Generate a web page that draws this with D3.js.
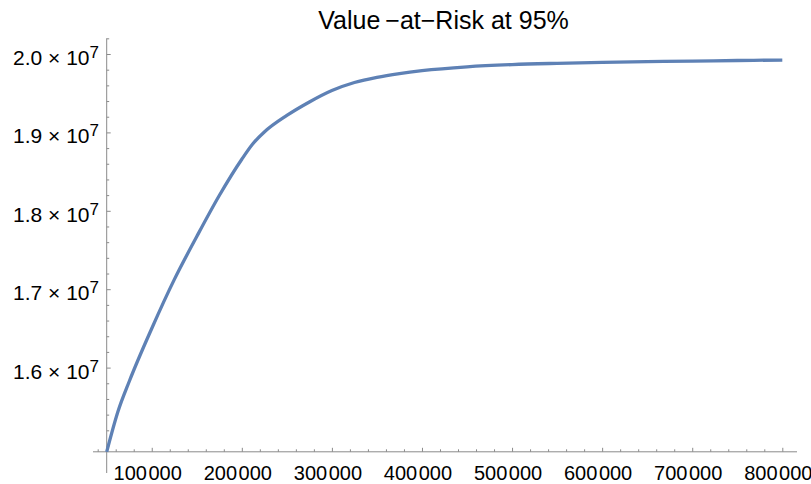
<!DOCTYPE html>
<html>
<head>
<meta charset="utf-8">
<script src="https://cdn.jsdelivr.net/npm/d3@7"></script>
<style>
  html, body { margin: 0; padding: 0; background: #fff; }
  svg { display: block; }
  text { font-family: "Liberation Sans", Arial, sans-serif; fill: #000; }
</style>
</head>
<body>
<svg id="chart" width="811" height="484"></svg>
<script>
// Portfolio size vs. Value-at-Risk (95%)
const positionSize = [50000, 62500, 75000, 100000, 125000, 150000, 175000, 200000, 212500,
  225000, 250000, 275000, 300000, 325000, 350000, 375000, 400000, 450000,
  500000, 550000, 600000, 650000, 700000, 750000, 800000];
const valueAtRisk = [1.4926e7, 1.5440e7, 1.5823e7, 1.6499e7, 1.7122e7, 1.7672e7, 1.8195e7, 1.8658e7, 1.8858e7,
  1.9005e7, 1.9216e7, 1.9388e7, 1.9534e7, 1.9636e7, 1.9703e7, 1.9751e7, 1.9788e7, 1.9837e7,
  1.9865e7, 1.9881e7, 1.9893e7, 1.9902e7, 1.9909e7, 1.9917e7, 1.9923e7];

const xMajorTicks = [100000, 200000, 300000, 400000, 500000, 600000, 700000, 800000];
const xLabelHead = ["100", "200", "300", "400", "500", "600", "700", "800"];
const xLabelTail = "000";
const yMajorTicks = [1.6e7, 1.7e7, 1.8e7, 1.9e7, 2.0e7];
const yTickMantissa = ["1.6", "1.7", "1.8", "1.9", "2.0"];
const yTickExponent = "7";
const chartTitle = "Value\u2009\u2212at\u2212Risk at 95%";

const svg = d3.select("#chart");

const x = d3.scaleLinear().domain([50000, 800000]).range([106.7, 782.3]);
const y = d3.scaleLinear().domain([1.6e7, 2.0e7]).range([367.6, 54]);

const axisColor = "#8a8a8a";
const xOrigin = x(50000);
const yOrigin = y(valueAtRisk[0]);

// axis lines
svg.append("line")
  .attr("x1", 93).attr("x2", 797)
  .attr("y1", yOrigin).attr("y2", yOrigin)
  .attr("stroke", axisColor).attr("stroke-width", 1);
svg.append("line")
  .attr("x1", xOrigin).attr("x2", xOrigin)
  .attr("y1", y(2.02e7)).attr("y2", 473)
  .attr("stroke", axisColor).attr("stroke-width", 1);

// x ticks (pointing up into the plot)
const xMinor = d3.range(40000, 800001, 20000).filter(v => !xMajorTicks.includes(v));
const gx = svg.append("g").attr("transform", `translate(0,${yOrigin})`);
gx.call(d3.axisTop(x).tickValues(xMajorTicks).tickSize(4).tickFormat(""));
gx.append("g").call(d3.axisTop(x).tickValues(xMinor).tickSize(2.5).tickFormat(""));
gx.selectAll(".domain").remove();
gx.selectAll("line").attr("stroke", axisColor);

// y ticks (pointing right into the plot)
const yMinor = d3.range(1.50e7, 2.021e7, 0.2e6).map(v => Math.round(v / 1e5) * 1e5)
  .filter(v => !yMajorTicks.includes(v));
const gy = svg.append("g").attr("transform", `translate(${xOrigin},0)`);
gy.call(d3.axisRight(y).tickValues(yMajorTicks).tickSize(4).tickFormat(""));
gy.append("g").call(d3.axisRight(y).tickValues(yMinor).tickSize(2.5).tickFormat(""));
gy.selectAll(".domain").remove();
gy.selectAll("line").attr("stroke", axisColor);

// x tick labels, digits grouped in threes
const xl = svg.append("g").selectAll("text")
  .data(xMajorTicks)
  .join("text")
  .attr("x", d => x(d) - 4)
  .attr("y", 480)
  .attr("text-anchor", "middle")
  .attr("font-size", 20);
xl.append("tspan").text((d, i) => xLabelHead[i]);
xl.append("tspan").attr("dx", 1.5).text(xLabelTail);

// y tick labels in scientific form
const yl = svg.append("g").selectAll("text")
  .data(yMajorTicks)
  .join("text")
  .attr("x", 99)
  .attr("y", d => y(d) + 11)
  .attr("text-anchor", "end")
  .attr("font-size", 21);
yl.append("tspan").text((d, i) => yTickMantissa[i] + " \u00d7 10");
yl.append("tspan").attr("dy", -7).attr("font-size", 17).text(yTickExponent);

// curve
const line = d3.line()
  .x(d => x(d[0]))
  .y(d => y(d[1]))
  .curve(d3.curveMonotoneX);
svg.append("path")
  .datum(positionSize.map((v, i) => [v, valueAtRisk[i]]))
  .attr("d", line)
  .attr("fill", "none")
  .attr("stroke", "#5e81b5")
  .attr("stroke-width", 3.3)
  .attr("stroke-linejoin", "round");

// title
svg.append("text")
  .attr("x", 443.5)
  .attr("y", 29)
  .attr("text-anchor", "middle")
  .attr("font-size", 25)
  .text(chartTitle);
</script>
</body>
</html>
